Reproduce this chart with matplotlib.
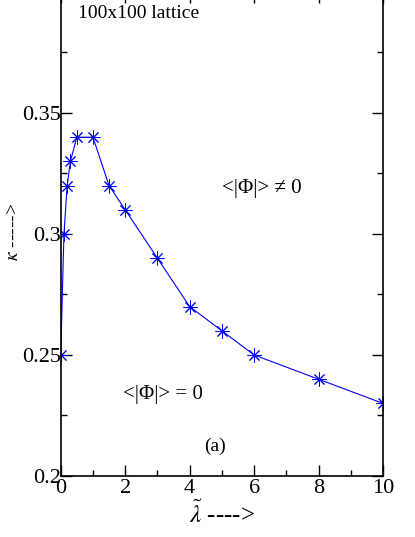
import matplotlib
matplotlib.use("Agg")
import matplotlib.pyplot as plt
from matplotlib.ticker import MultipleLocator

plt.rcParams['font.family'] = ['Liberation Serif', 'DejaVu Serif']
plt.rcParams['mathtext.fontset'] = 'stix'

lam = [0, 0.1, 0.2, 0.3, 0.5, 1, 1.5, 2, 3, 4, 5, 6, 8, 10]
kappa = [0.25, 0.30, 0.32, 0.33, 0.34, 0.34, 0.32, 0.31, 0.29, 0.27, 0.26, 0.25, 0.24, 0.23]

fig = plt.figure(figsize=(4.15, 5.37), dpi=100)
ax = fig.add_axes([0.1463, 0.1136, 0.7767, 0.9013])
ax.plot(lam, kappa, color='#0000ff', lw=0.8, marker=(8, 2, 0), ms=10, mew=0.7)
ax.set_xlim(0, 10)
ax.set_ylim(0.2, 0.4)
ax.xaxis.set_major_locator(MultipleLocator(2))
ax.xaxis.set_minor_locator(MultipleLocator(1))
ax.yaxis.set_major_locator(MultipleLocator(0.05))
ax.yaxis.set_minor_locator(MultipleLocator(0.025))
ax.tick_params(which='both', direction='in', top=True, right=True, labelsize=16, width=1)
ax.tick_params(which='major', length=8)
ax.tick_params(which='minor', length=4)
ax.tick_params(axis='x', pad=2)
ax.tick_params(axis='y', pad=0)
for s in ax.spines.values():
    s.set_linewidth(1.2)
ax.yaxis.set_major_formatter(plt.FuncFormatter(lambda v, p: ('%g' % round(v, 3)) if v < 0.39 else ''))
ax.xaxis.set_major_formatter(plt.FuncFormatter(lambda v, p: '%d' % v))

ax.set_xlabel(r'$\tilde{\lambda}$ ---->', fontsize=18, labelpad=2)
fig.text(13/415, 1 - 232/537, r'$\kappa$ ----->', fontsize=14, rotation=90,
         va='center', ha='center')

fig.text(78/415, 1 - 14/537, '100x100 lattice', fontsize=14, va='center', ha='left')
fig.text(222/415, 1 - 188/537, '<|Φ|> ≠ 0', fontsize=15, va='center', ha='left')
fig.text(123/415, 1 - 395/537, '<|Φ|> = 0', fontsize=15, va='center', ha='left')
fig.text(204/415, 1 - 446/537, '(a)', fontsize=14, va='center', ha='left')

fig.savefig('out.png', dpi=100)
